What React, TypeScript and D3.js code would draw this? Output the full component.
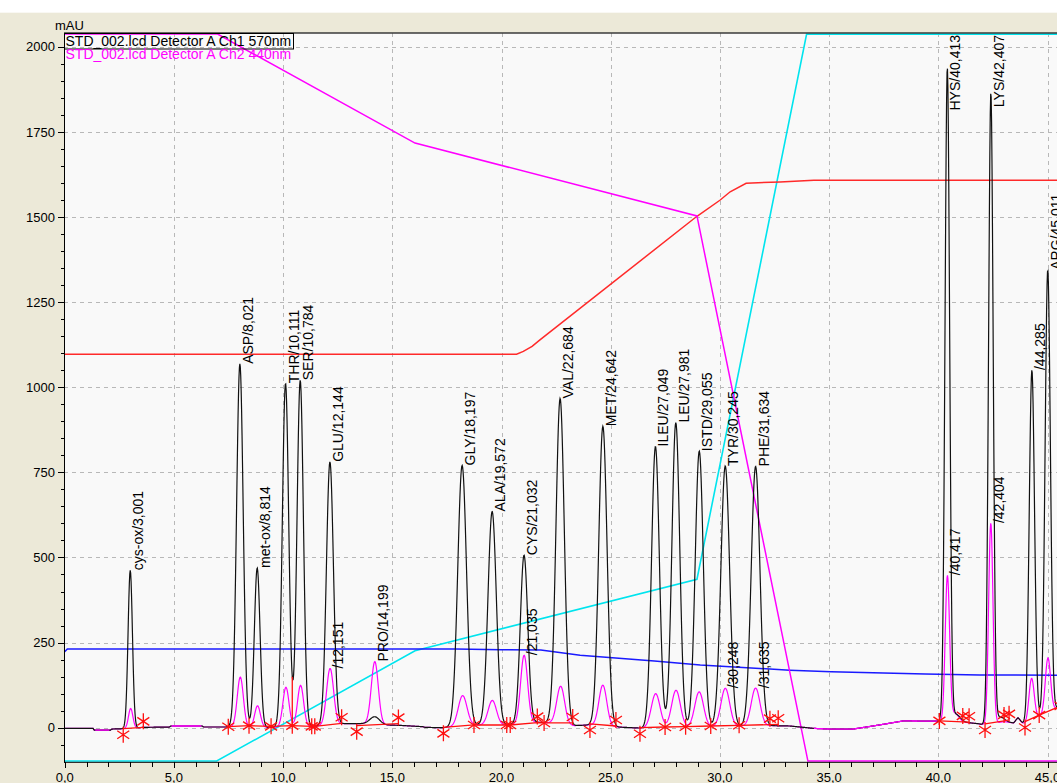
import React, { useEffect, useRef } from "react"
import * as d3 from "d3"

// channel 1 (570nm) peaks: retention time [min], height [mAU], width (sigma, min), label
const ch1Time = [3.001, 8.021, 8.814, 10.111, 10.784, 12.144, 14.199, 18.197, 19.572, 21.032, 22.684, 24.642, 27.049, 27.981, 29.055, 30.245, 31.634, 40.413, 40.8, 42.407, 42.8, 44.285, 45.011]
const ch1Height = [464, 1067, 468, 1010, 1018, 772, 22, 765, 627, 494, 956, 880, 826, 895, 810, 765, 762, 1918, 22, 1853, 15, 1030, 1300]
const ch1Sigma = [0.1, 0.15, 0.13, 0.145, 0.145, 0.16, 0.22, 0.2, 0.19, 0.17, 0.19, 0.19, 0.178, 0.178, 0.185, 0.2, 0.2, 0.105, 0.2, 0.105, 0.2, 0.12, 0.12]
const ch1Label = ["cys-ox", "ASP", "met-ox", "THR", "SER", "GLU", null, "GLY", "ALA", "CYS", "VAL", "MET", "ILEU", "LEU", "ISTD", "TYR", "PHE", "HYS", null, "LYS", null, "", "ARG"]

// channel 2 (440nm) peaks
const ch2Time = [3.02, 8.04, 8.83, 10.13, 10.8, 12.151, 14.199, 18.22, 19.58, 21.035, 22.71, 24.64, 27.06, 27.99, 29.05, 30.248, 31.635, 40.417, 40.75, 42.404, 44.27, 45.02]
const ch2Height = [58, 147, 63, 117, 122, 165, 184, 89, 72, 200, 111, 120, 100, 109, 103, 112, 111, 425, 25, 590, 125, 160]
const ch2Sigma = [0.1, 0.14, 0.13, 0.14, 0.14, 0.16, 0.16, 0.2, 0.19, 0.16, 0.18, 0.18, 0.2, 0.2, 0.2, 0.2, 0.2, 0.1, 0.18, 0.1, 0.12, 0.12]
const ch2Label = [null, null, null, null, null, "", "PRO", null, null, "", null, null, null, null, null, "", "", "", null, "", null, null]
// stretches where the 440nm trace lies over the 570nm one
const ch2OverFrom = [1.4, 4.9, 34.3]
const ch2OverTo = [2.05, 6.25, 39.95]

// detector baseline (drift)
const baseT = [0, 1.3, 1.35, 2.1, 2.15, 2.7, 3.6, 4.8, 4.85, 6.3, 6.35, 7.4, 9.4, 11.3, 12.6, 13.8, 14.7, 15.3, 16.4, 16.5, 17.3, 18.7, 20.2, 21.6, 22.3, 23.3, 24.0, 25.3, 26.3, 32.3, 33.2, 34.3, 35.0, 36.1, 37.3, 38.4, 40.0, 41.0, 41.8, 42.15, 43.0, 43.45, 43.65, 43.85, 44.0, 44.6, 45.5, 46.5]
const baseV = [-2, -2, -7, -7, -4, -3, 1, 2, 5, 5, 2, 2, 1, 3, 12, 12, 8, 7, 3, 1, 0, 8, 8, 16, 14, 6, 8, 2, -1, 6, 5, -2, -4, -4, 8, 20, 19, 17, 12, 8, 18, 14, 30, 14, 10, 32, 60, 70]

// method / gradient traces
const magGradT = [0, 7.0, 16.04, 28.95, 34.03, 46.5]
const magGradV = [2037, 2037, 1717, 1503, -98, -98]
const cyanT = [0, 6.96, 16.04, 28.95, 33.97, 46.5]
const cyanV = [-98, -98, 226, 436, 2037, 2037]
const redT = [0, 20.69, 21.0, 21.4, 21.76, 28.95, 30.0, 30.47, 31.2, 32.75, 34.3, 46.5]
const redV = [1097, 1097, 1105, 1120, 1139, 1502, 1549, 1574, 1599, 1603, 1608, 1608]
const blueT = [0, 0.12, 17.9, 20, 21.8, 23.6, 27.0, 29.1, 33.2, 35.1, 39.4, 41.9, 46.5]
const blueV = [223, 231, 231, 229, 228, 213, 196, 184, 169, 164, 158, 155, 154]

// integration baselines, marker kinds: d = start, u = end, m = valley
const intT = [[2.68, 3.6], [7.49, 8.44, 9.45, 10.42, 11.31, 11.45, 12.68], [13.37, 15.28], [17.34, 18.74, 20.24, 20.4, 21.64, 21.95, 23.26], [24.05, 25.24], [26.34, 27.49, 28.43, 29.58, 30.88, 32.29, 32.67], [40.05, 41.12, 41.41], [42.14, 43.01, 43.24], [43.97, 44.62, 45.6]]
const intV = [[-3, 1], [3, 6, 4, 6, 4, 4, 13], [6, 12], [1, 8, 8, 8, 15, 14, 14], [11, 5], [0, 2, 3, 5, 7, 9, 10], [20, 17, 16], [11, 20, 23], [18, 37, 64]]
const intKind = [["d", "u"], ["m", "m", "m", "m", "m", "m", "u"], ["d", "u"], ["d", "m", "m", "m", "u", "m", "u"], ["d", "u"], ["d", "m", "m", "m", "m", "u", "u"], ["m", "u", "u"], ["d", "u", "u"], ["d", "m", "m"]]
const dropT = [10.42]
const dropV = [6]

const yTicks = d3.range(0, 2001, 250)
const xTicks = d3.range(0, 46, 5)

export default function App() {
  const ref = useRef<SVGSVGElement>(null)

  useEffect(() => {
    const svg = d3.select(ref.current)
    svg.selectAll("*").remove()

    const W = 1057
    const H = 783
    const left = 64
    const top = 33
    const bottom = 762.3
    const font = "'Liberation Sans', Arial, sans-serif"

    const x = d3.scaleLinear().domain([0, 45]).range([64.7, 1047.5])
    const y = d3.scaleLinear().domain([0, 2000]).range([727.7, 46.7])
    const base = d3.scaleLinear().domain(baseT).range(baseV).clamp(true)

    const signal = (t: number, times: number[], heights: number[], sigmas: number[]) => {
      let v = base(t)
      for (let i = 0; i < times.length; i++) {
        const d = t - times[i]
        v += heights[i] * Math.exp(-(d * d) / (2 * sigmas[i] * sigmas[i]))
      }
      return v
    }
    const ch1 = (t: number) => signal(t, ch1Time, ch1Height, ch1Sigma)
    const ch2 = (t: number) => signal(t, ch2Time, ch2Height, ch2Sigma)

    // backgrounds
    svg.append("rect").attr("width", W).attr("height", H).attr("fill", "#ffffff")
    svg.append("rect").attr("y", 12.7).attr("width", W).attr("height", H - 12.7).attr("fill", "#ece9d8")
    svg.append("rect")
      .attr("x", left).attr("y", top)
      .attr("width", W - left).attr("height", bottom - top)
      .attr("fill", "#f9f9f9")

    svg.append("defs").append("clipPath").attr("id", "plotclip")
      .append("rect")
      .attr("x", left + 0.5).attr("y", top)
      .attr("width", W - left).attr("height", bottom - top)

    // grid
    const grid = svg.append("g")
      .attr("stroke", "#b8b8b8")
      .attr("stroke-dasharray", "4,4")
      .attr("shape-rendering", "crispEdges")
    xTicks.filter(t => t > 0).forEach(t => {
      grid.append("line")
        .attr("x1", Math.round(x(t)) + 0.5).attr("x2", Math.round(x(t)) + 0.5)
        .attr("y1", top).attr("y2", bottom)
    })
    yTicks.forEach(v => {
      grid.append("line")
        .attr("x1", left).attr("x2", W)
        .attr("y1", Math.round(y(v)) + 0.5).attr("y2", Math.round(y(v)) + 0.5)
    })

    const plot = svg.append("g").attr("clip-path", "url(#plotclip)")

    const pl = d3.line<number[]>().x(d => x(d[0])).y(d => y(d[1]))
    const zip = (a: number[], b: number[]) => a.map((t, i) => [t, b[i]])

    // gradient lines
    plot.append("path").attr("d", pl(zip(cyanT, cyanV))).attr("fill", "none").attr("stroke", "#00e4ee").attr("stroke-width", 1.6)
    plot.append("path").attr("d", pl(zip(blueT, blueV))).attr("fill", "none").attr("stroke", "#1a1aff").attr("stroke-width", 1.5)
    plot.append("path").attr("d", pl(zip(redT, redV))).attr("fill", "none").attr("stroke", "#ff2a2a").attr("stroke-width", 1.5)
    plot.append("path").attr("d", pl(zip(magGradT, magGradV))).attr("fill", "none").attr("stroke", "#ff00ff").attr("stroke-width", 1.5)

    // chromatograms
    const ts = d3.range(0, 46.5, 0.02)
    plot.append("path")
      .attr("d", pl(ts.map(t => [t, ch2(t)])))
      .attr("fill", "none").attr("stroke", "#ff00ff").attr("stroke-width", 1.2)
    plot.append("path")
      .attr("d", pl(ts.map(t => [t, ch1(t)])))
      .attr("fill", "none").attr("stroke", "#111111").attr("stroke-width", 1.2)
    ch2OverFrom.forEach((t0, i) => {
      plot.append("path")
        .attr("d", pl(d3.range(t0, ch2OverTo[i], 0.02).map(t => [t, ch2(t)])))
        .attr("fill", "none").attr("stroke", "#ff00ff").attr("stroke-width", 1.3)
    })

    // integration baselines + markers
    const red = "#ff1010"
    intT.forEach((grp, gi) => {
      plot.append("path")
        .attr("d", pl(zip(grp, intV[gi])))
        .attr("fill", "none").attr("stroke", red).attr("stroke-width", 1.3)
      grp.forEach((t, i) => {
        const cx = x(t)
        const by = y(intV[gi][i])
        const kind = intKind[gi][i]
        const cy = kind === "d" ? by + 6 : kind === "u" ? by - 6 : by
        plot.append("path")
          .attr("d", `M${cx},${cy - 8}L${cx},${cy + 8}M${cx - 6},${cy - 4}L${cx + 6},${cy + 4}M${cx - 6},${cy + 4}L${cx + 6},${cy - 4}`)
          .attr("stroke", red).attr("stroke-width", 1.3).attr("fill", "none")
      })
    })
    dropT.forEach((t, i) => {
      plot.append("line")
        .attr("x1", x(t)).attr("x2", x(t))
        .attr("y1", y(dropV[i])).attr("y2", y(ch1(t)))
        .attr("stroke", red).attr("stroke-width", 1.3)
    })

    // peak labels
    const fmt = (t: number) => d3.format(".3f")(t).replace(".", ",")
    const addLabels = (times: number[], labels: (string | null)[], fn: (t: number) => number) => {
      times.forEach((t, i) => {
        if (labels[i] === null) return
        const px = x(t) + 13
        let py = y(fn(t))
        const txt = plot.append("text")
          .attr("font-family", font).attr("font-size", 14)
          .attr("fill", "#000")
          .attr("text-anchor", "start")
          .text(labels[i] + "/" + fmt(t))
        const len = (txt.node() as SVGTextElement).getComputedTextLength()
        if (py - len < top + 2) py = top + 2 + len
        txt.attr("transform", `translate(${px},${py}) rotate(-90)`)
      })
    }
    addLabels(ch1Time, ch1Label, ch1)
    addLabels(ch2Time, ch2Label, ch2)

    // frame and axes
    svg.append("line").attr("x1", left).attr("x2", W).attr("y1", top).attr("y2", top)
      .attr("stroke", "#3a3a3a").attr("stroke-width", 1.5)
    svg.append("line").attr("x1", left + 0.5).attr("x2", left + 0.5).attr("y1", top).attr("y2", bottom + 0.5)
      .attr("stroke", "#000")
    svg.append("line").attr("x1", left).attr("x2", W).attr("y1", bottom).attr("y2", bottom)
      .attr("stroke", "#000")

    const axis = svg.append("g").attr("stroke", "#000").attr("shape-rendering", "crispEdges")
    d3.range(-50, 2001, 50).forEach(v => {
      const major = v % 250 === 0
      axis.append("line")
        .attr("x1", major ? 58 : 61).attr("x2", left)
        .attr("y1", Math.round(y(v)) + 0.5).attr("y2", Math.round(y(v)) + 0.5)
    })
    d3.range(0, 47, 1).forEach(t => {
      const major = t % 5 === 0
      axis.append("line")
        .attr("x1", Math.round(x(t)) + 0.5).attr("x2", Math.round(x(t)) + 0.5)
        .attr("y1", bottom).attr("y2", bottom + (major ? 6 : 4.5))
    })

    svg.append("g").selectAll("text").data(yTicks).enter().append("text")
      .attr("x", 55).attr("y", d => y(d))
      .attr("dy", "0.36em")
      .attr("text-anchor", "end")
      .attr("font-family", font).attr("font-size", 13)
      .text(d => String(d))
    svg.append("g").selectAll("text").data(xTicks).enter().append("text")
      .attr("x", d => x(d)).attr("y", 781.5)
      .attr("text-anchor", "middle")
      .attr("font-family", font).attr("font-size", 13)
      .text(d => d3.format(".1f")(d).replace(".", ","))

    svg.append("text").attr("x", 55).attr("y", 29.5)
      .attr("font-family", font).attr("font-size", 13)
      .text("mAU")

    // legend
    svg.append("rect").attr("x", 64.5).attr("y", 33.5).attr("width", 229).attr("height", 15.5)
      .attr("fill", "none").attr("stroke", "#000")
    svg.append("text").attr("x", 65.5).attr("y", 46)
      .attr("font-family", font).attr("font-size", 14).attr("fill", "#000")
      .text("STD_002.lcd Detector A Ch1 570nm")
    svg.append("text").attr("x", 65.5).attr("y", 58.5)
      .attr("font-family", font).attr("font-size", 14).attr("fill", "#ff00ff")
      .text("STD_002.lcd Detector A Ch2 440nm")
  }, [])

  return (
    <div style={{ position: "absolute", left: 0, top: 0 }}>
      <svg ref={ref} width={1057} height={783} style={{ display: "block" }} />
    </div>
  )
}
